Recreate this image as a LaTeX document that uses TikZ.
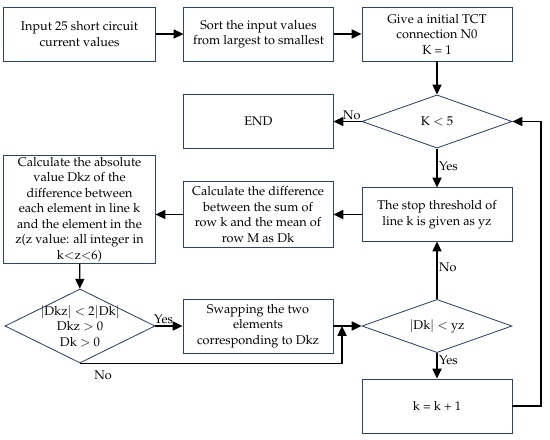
\documentclass[tikz,border=0pt]{standalone}
\usepackage[T1]{fontenc}
\usepackage{mathpazo}
\usetikzlibrary{arrows.meta, positioning, shapes.geometric}
\definecolor{edgeblue}{RGB}{47, 66, 108}

\begin{document}
\begin{tikzpicture}[
  x=0.025cm, y=-0.025cm,
  every node/.style = {font=\fontsize{9}{11}\selectfont},
  box/.style    = {rectangle, draw=edgeblue, line width=0.6pt, fill=white,
                   minimum width=3.75cm, minimum height=1.35cm,
                   align=center, inner sep=1pt},
  dec/.style    = {diamond, draw=edgeblue, line width=0.6pt, fill=white,
                   minimum width=3.75cm, minimum height=1.33cm,
                   align=center, inner sep=0pt, aspect=2.8},
  arr/.style    = {-{Triangle[length=7pt, width=6.5pt]}, line width=0.9pt},
  lbl/.style    = {inner sep=1pt}
]
\useasboundingbox (0,0) rectangle (550,439);

% top row
\node[box, minimum width=3.78cm] (input) at (79.5,34)
  {Input 25 short circuit\\current values};
\node[box, minimum width=3.73cm] (sort)  at (258.5,34)
  {Sort the input values\\from largest to smallest};
\node[box] (give) at (437,34)
  {Give a initial TCT\\connection N0\\K = 1};

% first check
\node[box, minimum width=3.73cm, minimum height=1.33cm] (stop) at (258.5,121.5) {END};
\node[dec] (kcheck) at (437,121.5) {K $<$ 5};

% middle row
\node[box, minimum width=3.78cm, minimum height=2.53cm] (absval) at (79.5,209.5)
  {Calculate the absolute\\value Dkz of the\\difference between\\each element in line k\\and the element in the\\z(z value: all integer in\\k$<$z$<$6)};
\node[box, minimum height=1.63cm] (diff) at (258,214.5)
  {Calculate the difference\\between the sum of\\row k and the mean of\\row M as Dk};
\node[box, minimum height=1.33cm] (thresh) at (437,214.5)
  {The stop threshold of\\line k is given as yz};

% bottom row
\node[dec, minimum height=1.85cm, inner sep=-10pt] (dkzcheck) at (80,326)
  {$|$Dkz$|$ $<$ 2$|$Dk$|$\\Dkz $>$ 0\\Dk $>$ 0};
\node[box] (swap) at (258,326)
  {Swapping the two\\elements\\corresponding to Dkz};
\node[dec] (dkcheck) at (437,326) {$|$Dk$|$ $<$ yz};
\node[box] (kinc) at (437,406) {k = k + 1};

\coordinate (join) at (342,326);
\coordinate (back) at (541,0);

\draw[arr] (input) -- (sort);
\draw[arr] (sort) -- (give);
\draw[arr] (give) -- (kcheck);
\draw[arr] (kcheck.west) -- node[lbl, above, pos=0.35] {No} (stop.east);
\draw[arr] (kcheck.south) -- node[lbl, right, pos=0.45] {Yes} (thresh.north);
\draw[arr] (thresh) -- (diff);
\draw[arr] (diff.west) -- (diff.west -| absval.east);
\draw[arr] (absval) -- (dkzcheck);
\draw[arr] (dkzcheck.east) -- node[lbl, above, pos=0.3] {Yes} (swap.west);
\draw[arr] (swap.east) -- (dkcheck.west);
\draw[arr] (dkzcheck.south) -| (join);
\node[lbl] (nolbl) at (103,375) {No};
\draw[arr] (dkcheck.north) -- node[lbl, right, pos=0.55] {No} (thresh.south);
\draw[arr] (dkcheck.south) -- node[lbl, right, pos=0.3] {Yes} (kinc.north);
\draw[arr] (kinc.east) -- (kinc.east -| back) |- (kcheck.east);
\end{tikzpicture}
\end{document}
